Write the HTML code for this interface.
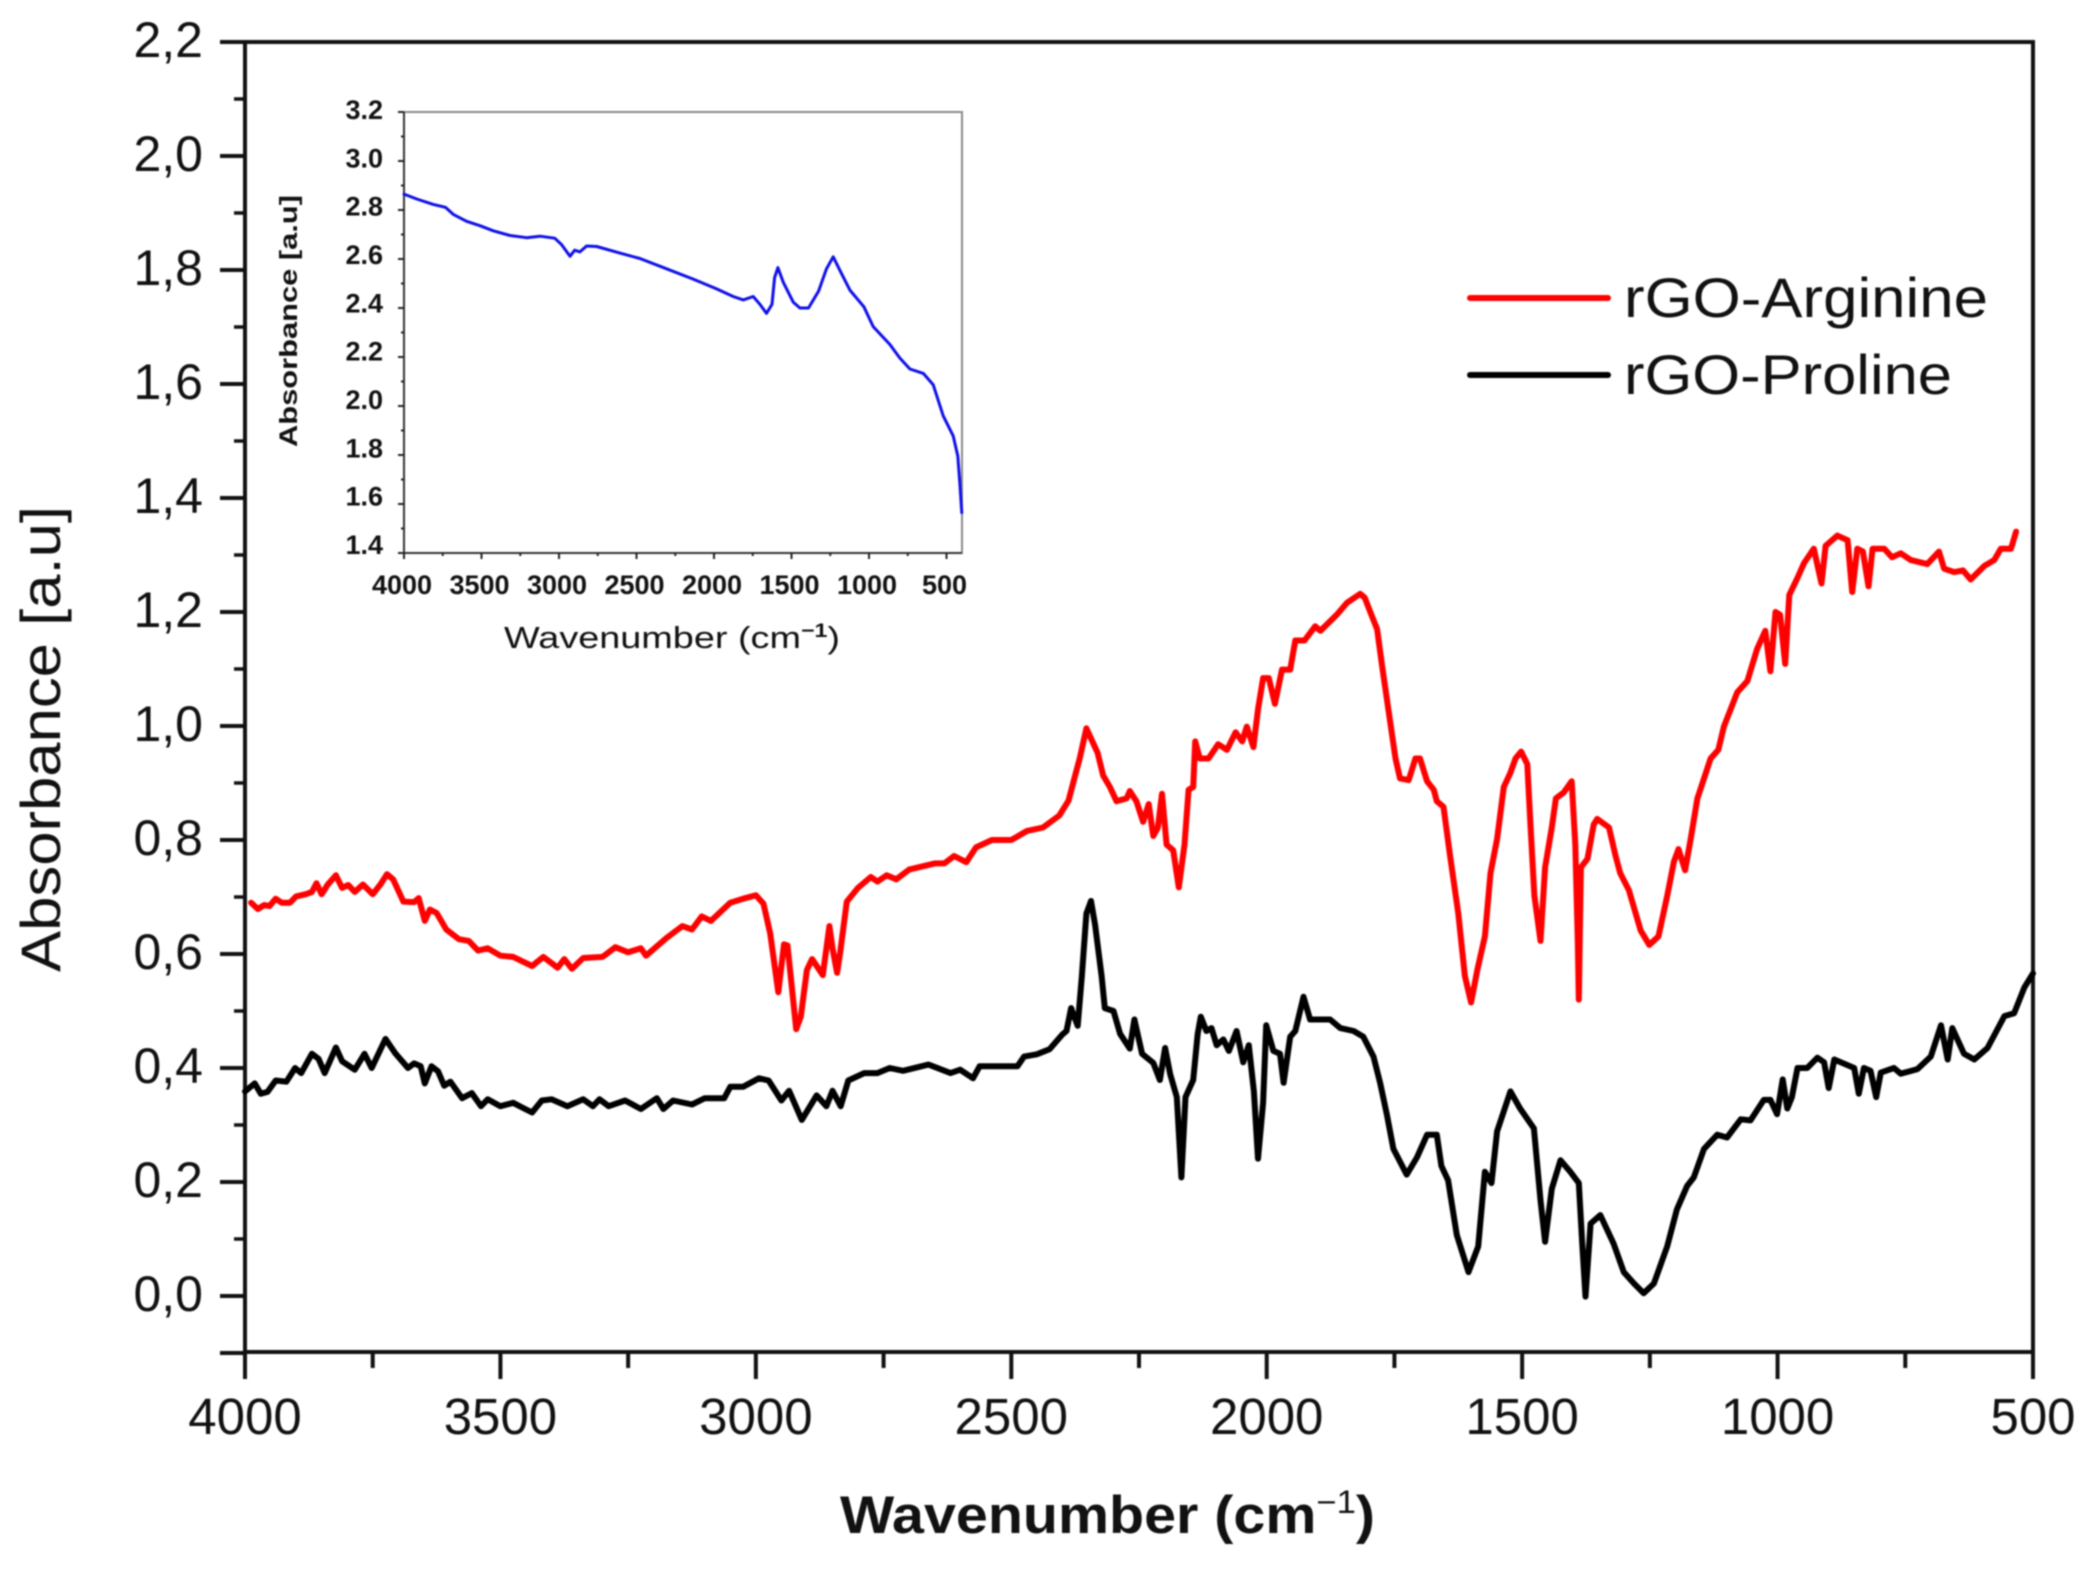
<!DOCTYPE html>
<html lang="en">
<head>
<meta charset="utf-8">
<title>FTIR absorbance spectra of rGO-Arginine and rGO-Proline</title>
<style>
html,body{margin:0;padding:0;background:#fff;width:2090px;height:1571px;overflow:hidden}
svg{display:block;filter:blur(0.8px)}
text{font-family:"Liberation Sans",Arial,sans-serif;fill:#111}
</style>
</head>
<body>
<svg id="chart" xmlns="http://www.w3.org/2000/svg" width="2090" height="1571" viewBox="0 0 2090 1571">
  <rect x="0" y="0" width="2090" height="1571" fill="#fff"/>
  <g id="main-plot"></g>
  <g id="inset-plot"></g>
  <g>
    <line x1="1470" y1="298" x2="1608" y2="298" stroke="#f00" stroke-width="6" stroke-linecap="round"/>
    <text x="1624" y="317" font-size="56" textLength="364" lengthAdjust="spacingAndGlyphs">rGO-Arginine</text>
    <line x1="1470" y1="375" x2="1608" y2="375" stroke="#000" stroke-width="6" stroke-linecap="round"/>
    <text x="1624" y="394" font-size="56" textLength="328" lengthAdjust="spacingAndGlyphs">rGO-Proline</text>
  </g>
  <text transform="translate(60,972) rotate(-90)" font-size="56" textLength="466" lengthAdjust="spacingAndGlyphs">Absorbance [a.u]</text>
  <text x="840" y="1533" font-size="53" font-weight="bold" textLength="535" lengthAdjust="spacingAndGlyphs">Wavenumber (cm<tspan font-size="32" dy="-20" font-weight="normal">−1</tspan><tspan dy="20">)</tspan></text>
  <text transform="translate(297,447) rotate(-90)" font-size="25" font-weight="bold" textLength="252" lengthAdjust="spacingAndGlyphs">Absorbance [a.u]</text>
  <text x="504" y="648" font-size="31" textLength="336" lengthAdjust="spacingAndGlyphs">Wavenumber (cm<tspan font-size="19" dy="-11" font-weight="bold">−1</tspan><tspan dy="11">)</tspan></text>
</svg>
<script>
// ---- Main chart data ----
const arginineWavenumbers = [3988,3975,3962,3952,3940,3928,3912,3900,3881,3869,3860,3850,3838,3822,3810,3798,3785,3769,3750,3735,3722,3710,3690,3669,3660,3648,3638,3625,3606,3581,3562,3544,3525,3500,3475,3438,3416,3388,3375,3360,3338,3300,3275,3250,3225,3215,3175,3144,3125,3106,3088,3050,3025,3000,2985,2972,2956,2945,2938,2921,2912,2900,2890,2869,2856,2850,2841,2835,2822,2800,2775,2762,2744,2725,2700,2650,2631,2612,2588,2569,2538,2500,2469,2438,2406,2388,
2375,2366,2353,2344,2331,2320,2307,2294,2274,2268,2255,2242,2231,2222,2213,2205,2196,2183,2172,2161,2153,2144,2140,2131,2114,2095,2078,2061,2048,2039,2026,2017,2007,1996,1984,1970,1954,1944,1926,1905,1895,1863,1843,1817,1808,1795,1784,1774,1761,1748,1739,1722,1709,1700,1686,1673,1667,1654,1641,1625,1612,1600,1588,1573,1562,1549,1536,1523,1513,1502,1490,1484,1476,1464,1455,1442,1434,1419,1403,1396,1391,1389,1385,1372,1360,1353,1330,1317,1308,1291,1268,1251,1233,1216,1203,1194,1181,1170,1157,1131,1116,1105,1079,1059,1040,1024,1014,1004,995,985,977,961,948,929,914,906,883,863,854,844,833,822,814,791,776,759,739,707,684,674,654,637,622,595,576,563,543,533];
const arginineAbsorbance = [.690,.679,.686,.684,.697,.690,.690,.701,.705,.709,.724,.705,.722,.738,.716,.721,.709,.722,.705,.722,.740,.731,.692,.691,.698,.658,.678,.672,.643,.626,.623,.606,.610,.597,.595,.579,.595,.576,.591,.574,.593,.595,.612,.603,.610,.597,.628,.649,.643,.666,.658,.690,.697,.703,.688,.636,.533,.617,.615,.468,.490,.572,.591,.563,.649,.610,.567,.602,.692,.716,.735,.727,.738,.731,.748,.759,.759,.772,.761,.787,.800,.800,.816,.822,.843,.869,
.913,.943,.996,.978,.953,.913,.893,.868,.873,.886,.868,.832,.863,.807,.822,.881,.792,.782,.717,.792,.888,.893,.973,.943,.943,.968,.958,.989,.973,.999,.963,1.029,1.084,1.084,1.039,1.099,1.099,1.150,1.150,1.175,1.167,1.195,1.216,1.232,1.225,1.195,1.170,1.104,1.024,.943,.908,.905,.943,.943,.903,.888,.868,.858,.772,.671,.561,.515,.571,.631,.742,.802,.893,.918,.943,.955,.933,.832,.702,.623,.752,.822,.873,.883,.903,.792,.621,.520,.752,.767,.827,.837,.822,.772,.742,.712,.641,.616,.631,.702,.762,.784,.747,.802,.873,.943,.958,.999,1.059,1.079,1.135,1.167,1.096,1.200,1.195,1.109,1.230,1.260,1.286,1.311,1.250,1.316,1.334,1.326,1.235,1.311,1.306,1.245,1.311,1.311,1.296,1.303,1.291,1.284,1.306,1.276,1.270,1.273,1.257,1.281,1.291,1.311,1.311,1.341];
const prolineWavenumbers = [4000,3981,3969,3956,3940,3919,3902,3890,3869,3856,3844,3822,3810,3785,3766,3752,3725,3706,3681,3669,3656,3648,3635,3622,3610,3598,3575,3556,3538,3525,3500,3475,3456,3438,3419,3400,3369,3338,3319,3306,3288,3256,3225,3194,3181,3162,3125,3100,3062,3050,3025,2994,2975,2950,2935,2910,2881,2862,2850,2834,2819,2788,2762,2738,2712,2662,2619,2600,2575,2562,2488,2475,2450,2425,2400,
2392,2383,2370,2362,2353,2344,2336,2323,2317,2300,2287,2268,2259,2244,2222,2209,2199,2189,2176,2167,2159,2144,2135,2129,2118,2108,2098,2085,2074,2059,2046,2035,2025,2017,2007,2001,1987,1974,1967,1954,1944,1928,1915,1876,1856,1830,1811,1791,1778,1765,1752,1726,1706,1686,1667,1658,1645,1628,1605,1586,1573,1560,1549,1536,1523,1504,1477,1464,1455,1442,1425,1406,1389,1382,1376,1366,1347,1321,1301,1281,1262,1242,1216,1197,1177,1164,1144,1118,1099,1072,1053,1027,1014,1001,990,981,972,961,942,922,909,900,889,850,841,831,818,807,798,772,759,726,700,680,667,658,635,615,589,556,537,517,500];
const prolineAbsorbance = [.359,.373,.355,.358,.378,.376,.400,.391,.425,.416,.391,.436,.412,.397,.425,.400,.451,.426,.400,.408,.403,.373,.403,.394,.369,.376,.347,.356,.333,.345,.333,.339,.330,.322,.343,.345,.333,.345,.333,.345,.333,.343,.328,.347,.328,.343,.336,.347,.347,.367,.367,.382,.378,.343,.360,.309,.352,.333,.360,.333,.378,.391,.391,.400,.395,.406,.391,.397,.382,.403,.403,.420,.424,.433,.459,
.465,.505,.474,.560,.671,.693,.651,.560,.505,.500,.460,.434,.485,.425,.409,.379,.435,.389,.349,.208,.349,.379,.460,.490,.465,.470,.440,.450,.430,.465,.410,.440,.359,.241,.339,.475,.430,.425,.374,.455,.465,.525,.485,.485,.470,.465,.455,.420,.374,.319,.258,.213,.243,.283,.283,.228,.203,.107,.042,.087,.218,.198,.289,.324,.359,.329,.294,.168,.095,.188,.238,.218,.198,.087,-.001,.127,.142,.092,.042,.022,.005,.022,.087,.152,.193,.208,.258,.283,.278,.310,.308,.344,.344,.319,.380,.329,.349,.400,.400,.418,.410,.365,.415,.400,.355,.400,.395,.349,.392,.400,.390,.398,.420,.475,.415,.470,.425,.415,.435,.491,.496,.541,.566];
const mainXTickValues = [4000,3500,3000,2500,2000,1500,1000,500];
const mainXMinorValues = [3750,3250,2750,2250,1750,1250,750];
const mainYTickValues = [0,0.2,0.4,0.6,0.8,1.0,1.2,1.4,1.6,1.8,2.0,2.2];
const mainYMinorValues = [-0.1,0.1,0.3,0.5,0.7,0.9,1.1,1.3,1.5,1.7,1.9,2.1];

// ---- Inset chart data ----
const insetWavenumbers = [4000,3918,3811,3733,3682,3596,3510,3424,3316,3209,3123,3028,2985,2929,2899,2865,2822,2757,2607,2478,2306,2134,1983,1876,1811,1747,1704,1661,1626,1609,1588,1553,1489,1446,1390,1325,1274,1231,1179,1123,1033,973,865,801,736,650,586,521,457,427,414,401];
const insetAbsorbance = [2.865,2.845,2.823,2.811,2.782,2.754,2.736,2.715,2.696,2.687,2.693,2.685,2.660,2.611,2.636,2.629,2.653,2.651,2.624,2.602,2.560,2.518,2.478,2.447,2.433,2.447,2.415,2.378,2.415,2.524,2.565,2.505,2.424,2.400,2.400,2.469,2.560,2.609,2.542,2.473,2.405,2.324,2.251,2.196,2.151,2.133,2.087,1.960,1.878,1.796,1.687,1.565];
const insetXTickValues = [4000,3500,3000,2500,2000,1500,1000,500];
const insetXMinorValues = [3750,3250,2750,2250,1750,1250,750];
const insetYTickValues = [1.4,1.6,1.8,2.0,2.2,2.4,2.6,2.8,3.0,3.2];
const insetYMinorValues = [1.5,1.7,1.9,2.1,2.3,2.5,2.7,2.9,3.1];

const NS = 'http://www.w3.org/2000/svg';
const mainG = document.getElementById('main-plot');
const insetG = document.getElementById('inset-plot');

// axis functions
const mainBox = {l:245, r:2033, t:42, b:1352};
function mainX(w){ return mainBox.l + (4000 - w) * (mainBox.r - mainBox.l) / 3500; }
function mainY(v){ return 1296 - v * 570; }
const insetBox = {l:404, r:962, t:112, b:553};
function insetX(w){ return insetBox.l + (4000 - w) * (insetBox.r - insetBox.l) / 3600; }
function insetY(v){ return insetBox.b - (v - 1.4) * (insetBox.b - insetBox.t) / 1.8; }
// the inset's tick labels sit on a slightly tighter, higher scale than its ticks
function insetLabelY(v){ return 109 + (3.2 - v) * 435 / 1.8 + 10; }

function make(parent, tag, attrs, name){
  const el = document.createElementNS(NS, tag);
  for (const k in attrs) el.setAttribute(k, attrs[k]);
  
  
  parent.appendChild(el);
  return el;
}
function seg(parent, x1, y1, x2, y2, color, width, name){
  return make(parent, 'line', {x1:x1, y1:y1, x2:x2, y2:y2, stroke:color, 'stroke-width':width}, name);
}
function label(parent, x, y, str, size, anchor, weight, name){
  const t = make(parent, 'text', {x:x, y:y, 'font-size':size, 'text-anchor':anchor, 'font-weight':weight}, name);
  t.textContent = str;
  return t;
}
function trace(parent, xs, ys, fx, fy, color, width, name){
  const d = xs.map(function(w, i){ return (i ? 'L' : 'M') + fx(w).toFixed(1) + ' ' + fy(ys[i]).toFixed(1); }).join('');
  return make(parent, 'path', {d:d, fill:'none', stroke:color, 'stroke-width':width, 'stroke-linejoin':'round', 'stroke-linecap':'round'}, name);
}

// main plot frame
seg(mainG, mainBox.l, mainBox.t, mainBox.r + 2, mainBox.t, '#111', 4, 'plot-top-border');
seg(mainG, mainBox.r, mainBox.t, mainBox.r, mainBox.b, '#111', 4, 'plot-right-border');
seg(mainG, mainBox.l, mainBox.t, mainBox.l, mainBox.b, '#111', 4, 'y-axis-line');
seg(mainG, mainBox.l, mainBox.b, mainBox.r, mainBox.b, '#111', 4, 'x-axis-line');

mainYTickValues.forEach(function(v){
  const y = mainY(v);
  seg(mainG, mainBox.l - 25, y, mainBox.l, y, '#111', 4, 'y-major-tick');
  label(mainG, 203, y + 15, v.toFixed(1).replace('.', ','), 50, 'end', 'normal', 'y-tick-label');
});
seg(mainG, mainBox.l - 25, mainY(-0.1), mainBox.l, mainY(-0.1), '#111', 4, 'y-major-tick-bottom');
mainYMinorValues.forEach(function(v){
  const y = mainY(v);
  seg(mainG, mainBox.l - 11, y, mainBox.l, y, '#111', 3.5, 'y-minor-tick');
});
mainXTickValues.forEach(function(w){
  const x = mainX(w);
  seg(mainG, x, mainBox.b, x, mainBox.b + 27, '#111', 4, 'x-major-tick');
  label(mainG, x, 1434, String(w), 51, 'middle', 'normal', 'x-tick-label');
});
mainXMinorValues.forEach(function(w){
  const x = mainX(w);
  seg(mainG, x, mainBox.b, x, mainBox.b + 16, '#111', 4, 'x-minor-tick');
});

trace(mainG, arginineWavenumbers, arginineAbsorbance, mainX, mainY, '#f00', 6, 'series-rgo-arginine');
trace(mainG, prolineWavenumbers, prolineAbsorbance, mainX, mainY, '#000', 6, 'series-rgo-proline');

// inset
make(insetG, 'rect', {x:insetBox.l, y:insetBox.t, width:insetBox.r - insetBox.l, height:insetBox.b - insetBox.t, fill:'#fff', stroke:'#8a8a8a', 'stroke-width':2}, 'inset-frame');
seg(insetG, insetBox.l, insetBox.t, insetBox.l, insetBox.b, '#333', 2, 'inset-y-axis-line');
seg(insetG, insetBox.l, insetBox.b, insetBox.r, insetBox.b, '#333', 2, 'inset-x-axis-line');
insetYTickValues.forEach(function(v){
  const y = insetY(v);
  seg(insetG, insetBox.l - 6, y, insetBox.l, y, '#222', 2, 'inset-y-major-tick');
  label(insetG, 383, insetLabelY(v), v.toFixed(1), 27, 'end', 'bold', 'inset-y-tick-label');
});
insetYMinorValues.forEach(function(v){
  const y = insetY(v);
  seg(insetG, insetBox.l - 3, y, insetBox.l, y, '#222', 2, 'inset-y-minor-tick');
});
insetXTickValues.forEach(function(w){
  const x = insetX(w);
  seg(insetG, x, insetBox.b, x, insetBox.b + 6, '#222', 2, 'inset-x-major-tick');
  label(insetG, x - 2, 594, String(w), 27, 'middle', 'bold', 'inset-x-tick-label');
});
insetXMinorValues.forEach(function(w){
  const x = insetX(w);
  seg(insetG, x, insetBox.b, x, insetBox.b + 3, '#222', 2, 'inset-x-minor-tick');
});
trace(insetG, insetWavenumbers, insetAbsorbance, insetX, insetY, '#1010e8', 3, 'series-inset-absorbance');
</script>
</body>
</html>
